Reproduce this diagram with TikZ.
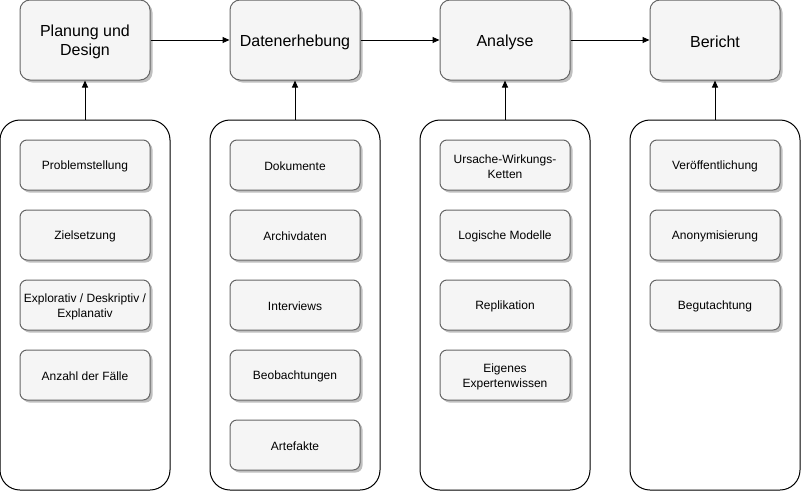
\documentclass[tikz,border=0pt]{standalone}
\usepackage{fontspec}
\setmainfont{Liberation Sans}
\usetikzlibrary{shadows,arrows.meta}
\definecolor{boxfill}{HTML}{F5F5F5}
\definecolor{boxline}{HTML}{666666}
\begin{document}
\begin{tikzpicture}[x=1pt,y=-1pt,
  topbox/.style={draw=boxline,fill=boxfill,line width=1pt,rounded corners=10pt,minimum width=130pt,minimum height=80pt,inner sep=0pt,drop shadow={shadow xshift=2.5pt,shadow yshift=-2.5pt,fill=black,opacity=0.25}},
  toptext/.style={inner sep=0pt,align=center,font=\fontsize{16}{19}\selectfont},
  itembox/.style={draw=boxline,fill=boxfill,line width=1pt,rounded corners=7pt,minimum width=130pt,minimum height=50pt,inner sep=0pt,drop shadow={shadow xshift=2.5pt,shadow yshift=-2.5pt,fill=black,opacity=0.25}},
  itemtext/.style={inner sep=0pt,align=center,font=\fontsize{12}{15}\selectfont},
  group/.style={draw=black,fill=white,line width=1pt,rounded corners=20pt,minimum width=170pt,minimum height=370pt,inner sep=0pt},
  conn/.style={draw=black,line width=1pt,-{Triangle[length=7pt,width=6pt]}}]
\useasboundingbox (0,0) rectangle (801,491);
% groups
\node[group] (g1) at (85,305) {};
\node[group] (g2) at (295,305) {};
\node[group] (g3) at (505,305) {};
\node[group] (g4) at (715,305) {};
% top boxes
\foreach \n/\x/\t in {t1/85/{Planung und\\Design},t2/295/Datenerhebung,t3/505/Analyse,t4/715/Bericht}{
  \node[topbox] (\n) at (\x,40) {};
  \node[toptext] (\n t) at ([yshift=-2pt]\n.center) {\t};
}
% items
\foreach \n/\x/\y/\t in {
  a1/85/165/Problemstellung, a2/85/235/Zielsetzung, a3/85/305/{Explorativ / Deskriptiv /\\Explanativ}, a4/85/375/Anzahl der Fälle,
  b1/295/165/Dokumente, b2/295/235/Archivdaten, b3/295/305/Interviews, b4/295/375/Beobachtungen, b5/295/445/Artefakte,
  c1/505/165/{Ursache-Wirkungs-\\Ketten}, c2/505/235/Logische Modelle, c3/505/305/Replikation, c4/505/375/{Eigenes\\Expertenwissen},
  d1/715/165/Veröffentlichung, d2/715/235/Anonymisierung, d3/715/305/Begutachtung}{
  \node[itembox] (\n) at (\x,\y) {};
  \node[itemtext] (\n t) at ([yshift=-1.5pt]\n.center) {\t};
}
% connectors
\draw[conn] (t1) -- (t2);
\draw[conn] (t2) -- (t3);
\draw[conn] (t3) -- (t4);
\draw[conn] (g1.north) -- (t1.south);
\draw[conn] (g2.north) -- (t2.south);
\draw[conn] (g3.north) -- (t3.south);
\draw[conn] (g4.north) -- (t4.south);
\end{tikzpicture}
\end{document}
